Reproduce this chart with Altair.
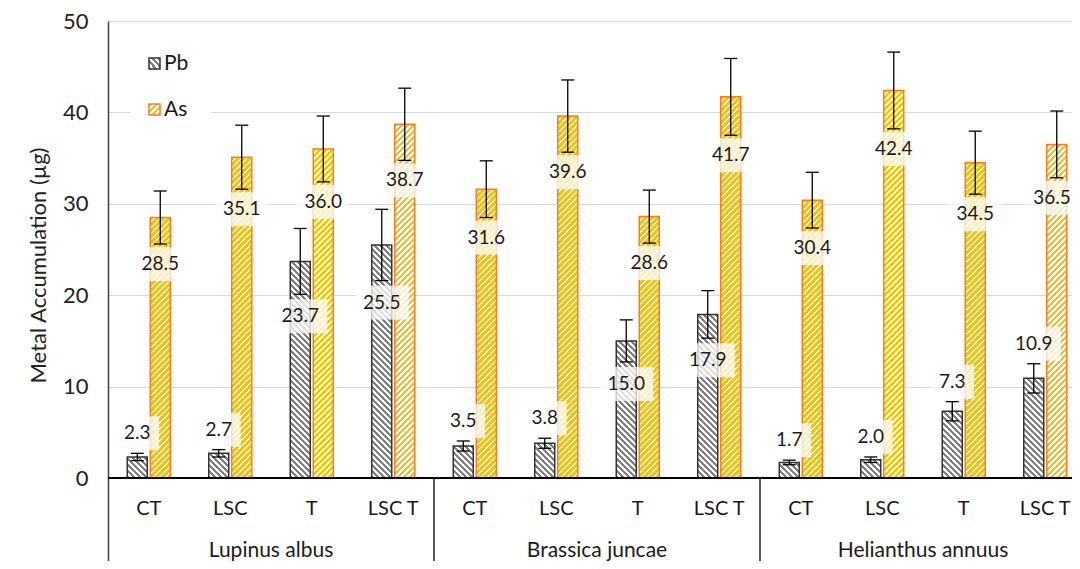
import math
import altair as alt
import pandas as pd

# ---------------- data ----------------
groups = ["Lupinus albus", "Brassica juncae", "Helianthus annuus"]
treatments = ["CT", "LSC", "T", "LSC T"]
pb_values = [2.3, 2.7, 23.7, 25.5, 3.5, 3.8, 15.0, 17.9, 1.7, 2.0, 7.3, 10.9]
pb_sd = [0.4, 0.4, 3.6, 3.9, 0.55, 0.55, 2.3, 2.6, 0.25, 0.3, 1.05, 1.6]
as_values = [28.5, 35.1, 36.0, 38.7, 31.6, 39.6, 28.6, 41.7, 30.4, 42.4, 34.5, 36.5]
as_sd = [2.9, 3.5, 3.6, 3.95, 3.1, 3.95, 2.9, 4.2, 3.05, 4.2, 3.45, 3.65]
y_ticks = [0, 10, 20, 30, 40, 50]
metals = ["Pb", "As"]

# ---------------- layout / style ----------------
FONT = "Lato"
W, H = 964, 540            # plot area (continues below the x axis for category rows)
PLOT_H = 457               # height of the 0..50 value range
PAD_L, PAD_T = 100, 13
Y_MAX = 50
PXU = PLOT_H / Y_MAX       # px per y unit
Y_MIN = -(H - PLOT_H) / PXU
CAT_PX = 81.5              # px per category
X_MAX = W / CAT_PX
BAR_PX, GAP_PX = 20.0, 1.5
PERIOD = 6.0

PB_STRIPE, PB_EDGE = "#808080", "#333333"
AS_STRIPE, AS_EDGE = "#ffc000", "#fb7d1f"

xs = alt.Scale(domain=[0, X_MAX], nice=False, zero=False)
ys = alt.Scale(domain=[Y_MIN, Y_MAX], nice=False, zero=False)

y_axis = alt.Axis(values=y_ticks, grid=True, gridColor="#d9d9d9", gridWidth=1,
                  domainColor="#404040", domainWidth=1.5, ticks=False,
                  labelFont=FONT, labelFontSize=22, labelColor="#222222", labelPadding=20,
                  title="Metal Accumulation (µg)", titleFont=FONT, titleFontSize=22,
                  titleFontWeight="normal", titleColor="#222222", titleAngle=270,
                  titleX=-70, titleY=244, titleAlign="center", titleBaseline="middle")


def X(field):
    return alt.X(field, scale=xs, axis=None)


def Y(field):
    return alt.Y(field, scale=ys, axis=y_axis)


def u(px):
    return px / CAT_PX


def yu(px):
    return px / PXU


def stripes(w, h, color, frac, direction):
    L = w + h
    k = L / (w * w + h * h)
    if direction == "/":
        x1, y1, x2, y2 = 0, 0, k * w, k * h
    else:
        x1, y1, x2, y2 = 0, 1, k * w, 1 - k * h
    stops = []
    j = 0
    while j * PERIOD < L:
        a = j * PERIOD / L
        b = min((j + frac) * PERIOD / L, 1.0)
        c = min((j + 1) * PERIOD / L, 1.0)
        stops += [
            alt.GradientStop(offset=a, color=color),
            alt.GradientStop(offset=b, color=color),
            alt.GradientStop(offset=b, color="white"),
            alt.GradientStop(offset=c, color="white"),
        ]
        j += 1
    return alt.LinearGradient(gradient="linear", stops=stops, x1=x1, y1=y1, x2=x2, y2=y2)


rows = []
for gi, g in enumerate(groups):
    for ti, t in enumerate(treatments):
        i = gi * 4 + ti
        c = i + 0.5
        for m, vals, sds in (("Pb", pb_values, pb_sd), ("As", as_values, as_sd)):
            v, s = vals[i], sds[i]
            if m == "Pb":
                x, x2 = c - u(GAP_PX + BAR_PX), c - u(GAP_PX)
                if v < 12:
                    ly = v + s + yu(20)
                else:
                    ly = v - s - yu(22)
            else:
                x, x2 = c + u(GAP_PX), c + u(GAP_PX + BAR_PX)
                ly = v - s - yu(20)
            lab = f"{v:.1f}"
            tw = 10.3 * (len(lab) - 1) + 5
            bw = tw + 18
            xc = (x + x2) / 2
            # keep the label inside the plot's right edge
            lx = min(xc, X_MAX - u(tw / 2 + 2))
            rows.append(dict(group=g, treat=t, metal=m, x=x, x2=x2, xc=xc, lx=lx, v=v, y0=0.0,
                             lo=v - s, hi=v + s, cap1=xc - u(6.5), cap2=xc + u(6.5),
                             ly=ly, lab=lab, bx1=lx - u(bw / 2), bx2=lx + u(bw / 2),
                             by1=ly - yu(17), by2=ly + yu(17)))
df = pd.DataFrame(rows)

layers = []

# legend background (hides the gridline like the reference)
layers.append(alt.Chart(pd.DataFrame({"k": [0]})).mark_rect(fill="white").encode(
    x=alt.value(23), x2=alt.value(103), y=alt.value(18), y2=alt.value(108)))

# striped bars, one layer per bar (each needs its own gradient)
for _, r in df.iterrows():
    w = BAR_PX
    h = r["v"] * PXU
    if r["metal"] == "Pb":
        fill = stripes(w, h, PB_STRIPE, 0.5, "\\")
        edge = PB_EDGE
    else:
        fill = stripes(w, h, AS_STRIPE, 0.62, "/")
        edge = AS_EDGE
    layers.append(alt.Chart(pd.DataFrame([r])).mark_rect(
        fill=fill, stroke=edge, strokeWidth=1.5, clip=True).encode(
        x=X("x:Q"), x2="x2:Q", y=Y("y0:Q"), y2="v:Q"))

# error bars
layers.append(alt.Chart(df).mark_rule(color="black", strokeWidth=1.3, clip=True).encode(
    x=X("xc:Q"), y=Y("lo:Q"), y2="hi:Q"))
for end in ("lo", "hi"):
    layers.append(alt.Chart(df).mark_rule(color="black", strokeWidth=1.3, clip=True).encode(
        x=X("cap1:Q"), x2="cap2:Q", y=Y(f"{end}:Q")))

# data label boxes and texts
layers.append(alt.Chart(df).mark_rect(fill="white", fillOpacity=0.75, clip=True).encode(
    x=X("bx1:Q"), x2="bx2:Q", y=Y("by1:Q"), y2="by2:Q"))
layers.append(alt.Chart(df).mark_text(font=FONT, fontSize=19, color="#1a1a1a",
                                      baseline="middle", align="center", clip=True).encode(
    x=X("lx:Q"), y=Y("ly:Q"), text="lab:N"))

# x axis line
layers.append(alt.Chart(pd.DataFrame({"y": [0.0]})).mark_rule(color="black", strokeWidth=2).encode(
    y=Y("y:Q")))

# group separators below the axis
sep = pd.DataFrame({"x": [4.0, 8.0], "y": [0.0, 0.0], "y2": [Y_MIN, Y_MIN]})
layers.append(alt.Chart(sep).mark_rule(color="black", strokeWidth=1.3).encode(
    x=X("x:Q"), y=Y("y:Q"), y2="y2:Q"))

# category labels
cats = pd.DataFrame({"x": [i + 0.5 for i in range(12)],
                     "t": treatments * len(groups),
                     "y": [-yu(31)] * 12})
layers.append(alt.Chart(cats).mark_text(font=FONT, fontSize=20, color="#1a1a1a",
                                        baseline="middle", align="center").encode(
    x=X("x:Q"), y=Y("y:Q"), text="t:N"))
grp = pd.DataFrame({"x": [gi * 4 + 2.0 for gi in range(3)], "g": groups,
                    "y": [-yu(73)] * 3})
layers.append(alt.Chart(grp).mark_text(font=FONT, fontSize=21, color="#1a1a1a",
                                       baseline="middle", align="center").encode(
    x=X("x:Q"), y=Y("y:Q"), text="g:N"))

# manual legend with patterned swatches
for m, yy, col, frac, d, edge in (("Pb", 37, PB_STRIPE, 0.5, "\\", PB_EDGE),
                                  ("As", 83, AS_STRIPE, 0.62, "/", AS_EDGE)):
    layers.append(alt.Chart(pd.DataFrame({"m": [m]})).mark_rect(
        fill=stripes(11, 11, col, frac, d), stroke=edge, strokeWidth=1.5).encode(
        x=alt.value(41), x2=alt.value(52), y=alt.value(yy), y2=alt.value(yy + 11)))
    layers.append(alt.Chart(pd.DataFrame({"m": [m]})).mark_text(
        font=FONT, fontSize=21, color="#1a1a1a", align="left", baseline="middle").encode(
        x=alt.value(56), y=alt.value(yy + 5.5), text="m:N"))

chart = alt.layer(*layers).properties(
    width=W, height=H,
    padding={"left": PAD_L, "top": PAD_T, "right": 0, "bottom": 0},
    autosize=alt.AutoSizeParams(type="none"),
    background="white",
).configure_view(stroke=None)

chart.save("out.html", embed_options={"renderer": "svg", "actions": False})
